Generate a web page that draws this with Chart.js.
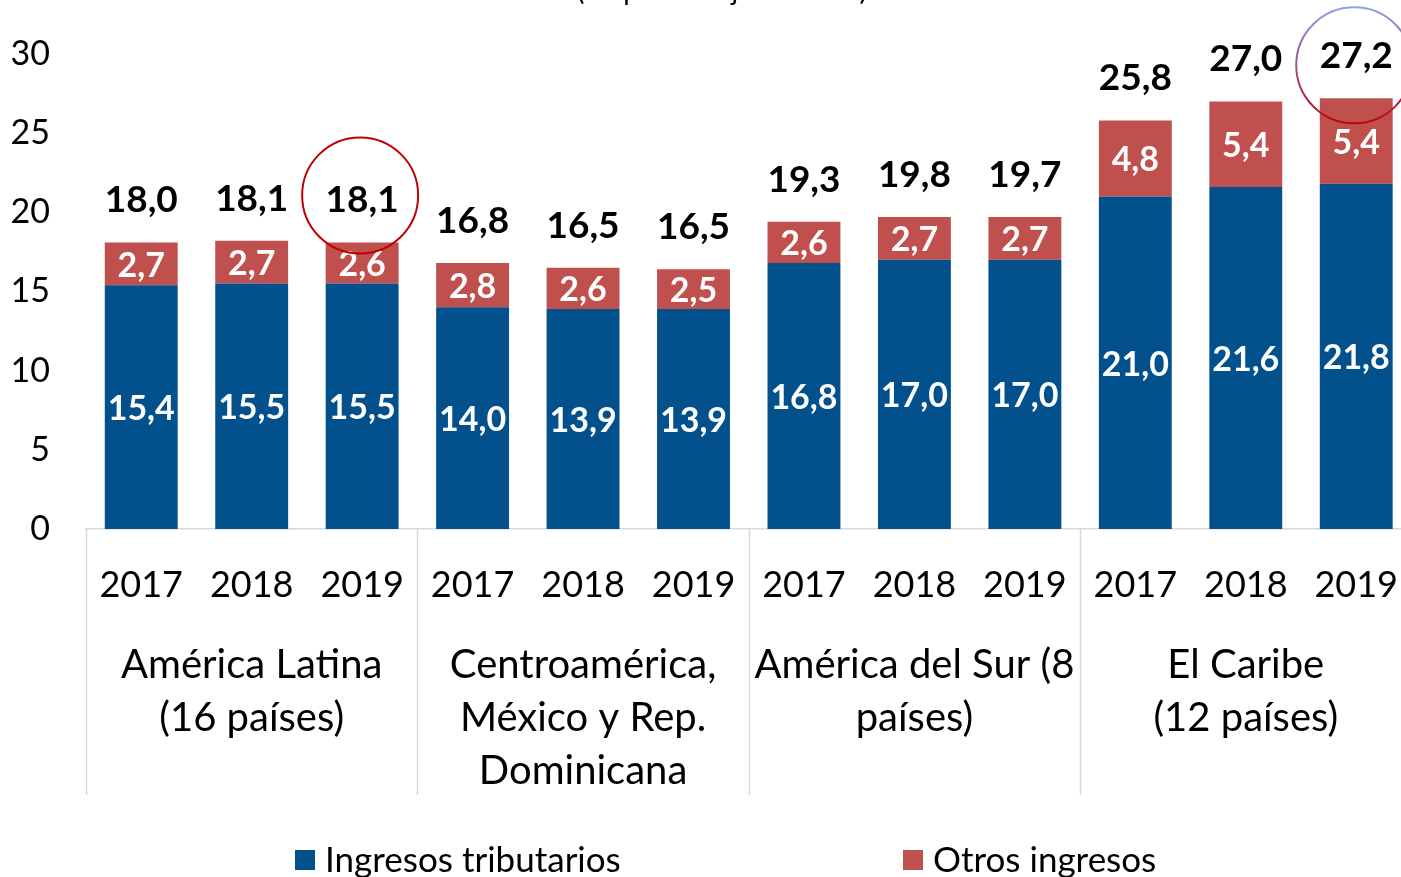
<!DOCTYPE html>
<html>
<head>
<meta charset="utf-8">
<script src="https://cdn.jsdelivr.net/npm/chart.js@4.4.1/dist/chart.umd.min.js"></script>
<style>
  html, body { margin: 0; padding: 0; overflow: hidden; background: #fff; }
  canvas { display: block; }
</style>
</head>
<body>
<canvas id="ingresosChart" width="1425" height="877"></canvas>
<script>
// Ingresos totales del gobierno central, por subregión (en porcentajes del PIB)
const years = ['2017', '2018', '2019', '2017', '2018', '2019', '2017', '2018', '2019', '2017', '2018', '2019'];
const regions = [
    ['América Latina', '(16 países)'],
    ['Centroamérica,', 'México y Rep.', 'Dominicana'],
    ['América del Sur (8', 'países)'],
    ['El Caribe', '(12 países)']
];
const tributarios = [15.4, 15.5, 15.5, 14.0, 13.9, 13.9, 16.8, 17.0, 17.0, 21.0, 21.6, 21.8];
const otros = [2.7, 2.7, 2.6, 2.8, 2.6, 2.5, 2.6, 2.7, 2.7, 4.8, 5.4, 5.4];
const totales = [18.0, 18.1, 18.1, 16.8, 16.5, 16.5, 19.3, 19.8, 19.7, 25.8, 27.0, 27.2];
const circled = [2, 11];
const yMax = 30;
const yStep = 5;

const BLUE = '#02518C';
const RED = '#C0504D';
const FONT = 'Lato, "Open Sans", sans-serif';

function fmt(v) {
    return v.toFixed(1).replace('.', ',');
}

const labelsPlugin = {
    id: 'labelsPlugin',
    afterDatasetsDraw(chart) {
        const ctx = chart.ctx;
        ctx.save();
        ctx.textAlign = 'center';
        ctx.textBaseline = 'middle';
        ctx.fillStyle = '#fff';
        ctx.font = 'bold 34px ' + FONT;
        chart.data.datasets.forEach((ds, di) => {
            chart.getDatasetMeta(di).data.forEach((el, i) => {
                ctx.fillText(fmt(ds.data[i]), el.x, (el.y + el.base) / 2 + 2);
            });
        });
        // totals above the stacks
        ctx.fillStyle = '#000';
        ctx.font = 'bold 37px ' + FONT;
        const top = chart.getDatasetMeta(1).data;
        top.forEach((el, i) => {
            ctx.fillText(fmt(totales[i]), el.x, el.y - 42);
        });
        // circles around the 2019 totals
        circled.forEach((i, k) => {
            const el = top[i];
            const r = 58;
            const cx = el.x - 2;
            const cy = k === 0 ? el.y - 47 : el.y - 33;
            ctx.beginPath();
            ctx.arc(cx, cy, r, 0, Math.PI * 2);
            ctx.lineWidth = 2;
            if (k === 0) {
                ctx.strokeStyle = '#C00000';
            } else {
                const g = ctx.createLinearGradient(0, cy - r, 0, cy + r);
                g.addColorStop(0, '#8EA2E6');
                g.addColorStop(0.5, '#A0528A');
                g.addColorStop(1, '#C00000');
                ctx.strokeStyle = g;
            }
            ctx.stroke();
        });
        ctx.restore();
    },
    afterDraw(chart) {
        const ctx = chart.ctx;
        const x = chart.scales.x;
        const area = chart.chartArea;
        const step = x.getPixelForValue(1) - x.getPixelForValue(0);
        ctx.save();
        // group separators
        ctx.strokeStyle = '#D9D9D9';
        ctx.lineWidth = 1.5;
        for (let g = 0; g <= regions.length; g++) {
            const px = Math.round(x.getPixelForValue(g * 3) - step / 2) + 0.5;
            ctx.beginPath();
            ctx.moveTo(px, area.bottom);
            ctx.lineTo(px, 795);
            ctx.stroke();
        }
        // region names
        ctx.fillStyle = '#000';
        ctx.textAlign = 'center';
        ctx.textBaseline = 'middle';
        ctx.font = '40px ' + FONT;
        regions.forEach((lines, g) => {
            const cx = x.getPixelForValue(g * 3 + 1);
            lines.forEach((t, j) => ctx.fillText(t, cx, 665 + j * 53));
        });
        // title, mostly cropped off the top edge
        ctx.font = '28px ' + FONT;
        ctx.textBaseline = 'alphabetic';
        ctx.fillText('(En porcentajes del PIB)', 722, 0);
        // legend
        ctx.font = '35px ' + FONT;
        ctx.textAlign = 'left';
        ctx.textBaseline = 'middle';
        const items = [['Ingresos tributarios', BLUE, 295], ['Otros ingresos', RED, 903]];
        items.forEach(([t, c, lx]) => {
            ctx.fillStyle = c;
            ctx.fillRect(lx, 850, 20, 20);
            ctx.fillStyle = '#000';
            ctx.fillText(t, lx + 30, 861);
        });
        ctx.restore();
    }
};

new Chart(document.getElementById('ingresosChart').getContext('2d'), {
    type: 'bar',
    data: {
        labels: years,
        datasets: [
            { label: 'Ingresos tributarios', data: tributarios, backgroundColor: BLUE, barPercentage: 0.66, categoryPercentage: 1 },
            { label: 'Otros ingresos', data: otros, backgroundColor: RED, barPercentage: 0.66, categoryPercentage: 1 }
        ]
    },
    options: {
        responsive: false,
        animation: false,
        layout: { padding: { top: 54, left: 0, right: 0, bottom: 0 } },
        plugins: {
            legend: { display: false },
            tooltip: { enabled: false }
        },
        scales: {
            x: {
                stacked: true,
                grid: { display: false },
                border: { color: '#D9D9D9', width: 1.5 },
                ticks: { color: '#000', font: { family: FONT, size: 36 }, padding: 27, maxRotation: 0, autoSkip: false },
                afterFit: s => { s.height = 348; }
            },
            y: {
                stacked: true,
                min: 0,
                max: yMax,
                grid: { display: false },
                border: { display: false },
                ticks: { stepSize: yStep, color: '#000', font: { family: FONT, size: 34 }, padding: 28 },
                afterFit: s => { s.width = 86; }
            }
        }
    },
    plugins: [labelsPlugin]
});
</script>
</body>
</html>
